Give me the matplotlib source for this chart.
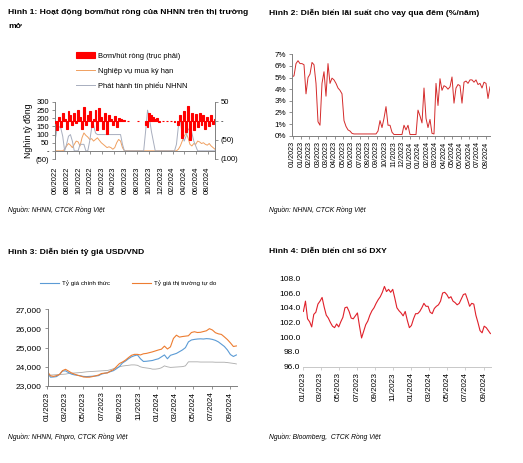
import numpy as np
import pandas as pd
import matplotlib
matplotlib.use("Agg")
import matplotlib.pyplot as plt
import matplotlib.dates as mdates
from matplotlib.ticker import FuncFormatter, FixedLocator

plt.rcParams['font.family'] = ['Liberation Sans', 'DejaVu Sans']

# ---------------- data ----------------
# Hinh 1: 10-day points from 01/06/2022
h1_start = "2022-06-01"
h1_red = [-5, -25, 10, -15, 20, 5, -20, 25, 15, -10, 20, -5, 30, 10, -20, 36, -10, 15, 25, -15,
          5, 30, -25, 35, 10, -20, 20, -35, 15, 5, -10, 12, -15, 8, 5, 3, 2, np.nan, 1, np.nan,
          np.nan, np.nan, np.nan, 1, np.nan, np.nan, np.nan, -10, -15, 20, 15, 10, 5, 8, -2, np.nan,
          1, np.nan, -1, np.nan, 1, np.nan, -2, np.nan, -10, 15, -44, 25, -30, 40, -49, 20, -25, 18,
          -15, 22, -10, 15, -20, 10, -12, 15, -8, 5]
h1_orange = [0, 0, 0, 0, 0, 10, 30, 45, 35, 20, 40, 60, 55, 30, 80, 110, 95, 85, 70, 75,
             60, 70, 80, 65, 50, 40, 30, 20, 25, 20, 10, 20, 50, 70, 60, 20, 0, 0, 0, 0,
             0, 0, 0, 0, 0, 0, 0, 0, 0, 0, 0, 0, 0, 0, 0, 0, 0, 0, 0, 0,
             0, 0, 0, 0, 10, 30, 60, 90, 110, 80, 40, 30, 45, 40, 60, 55, 45, 50, 40, 35,
             45, 30, 20, 10]
h1_grey = [60, 130, 150, 140, 90, 0, 40, 90, 100, 60, 0, 0, 0, 40, 40, 40, 0, 0, 60, 140,
           160, 110, 100, 100, 100, 100, 100, 100, 100, 100, 100, 100, 100, 100, 100, 40, 0, 0, 0, 0,
           0, 0, 0, 0, 0, 0, 0, 120, 250, 200, 120, 60, 0, 0, 0, 0, 0, 0, 0, 0,
           0, 0, 0, 40, 150, 190, 100, 60, 90, 130, 140, 110, 60, 30, 0, 0, 0, 0, 0, 0,
           0, 0, 0, 0]

# Hinh 2: overnight rate (%/nam)
h2_rate = [5.05, 5.15, 6.2, 6.45, 6.2, 6.2, 6.1, 3.6, 5.0, 5.3, 6.3, 6.1, 4.5, 1.2, 0.9, 4.5, 5.5, 3.4, 6.2, 4.5,
           4.95, 4.8, 4.5, 4.1, 3.9, 3.6, 1.3, 0.8, 0.5, 0.4, 0.2, 0.15, 0.15, 0.15, 0.15, 0.15, 0.15, 0.15, 0.15, 0.15,
           0.15, 0.15, 0.15, 0.4, 1.3, 0.7, 1.5, 2.5, 0.9, 0.9, 0.3, 0.1, 0.1, 0.1, 0.1, 0.1, 0.9, 0.5, 0.9, 0.1,
           0.1, 0.1, 0.1, 2.2, 1.7, 1.1, 4.1, 1.5, 0.7, 1.4, 0.2, 0.15, 4.5, 2.6, 4.9, 3.9, 4.3, 4.2, 4.0, 4.2,
           5.05, 2.8, 4.1, 4.4, 4.3, 2.8, 4.6, 4.7, 4.5, 4.8, 4.8, 4.6, 4.8, 4.4, 4.5, 4.1, 4.6, 4.5, 3.2, 4.2]
h2_labels = ["01/2023", "01/2023", "02/2023", "03/2023", "03/2023", "04/2023", "05/2023", "06/2023",
             "07/2023", "08/2023", "09/2023", "10/2023", "11/2023", "12/2023", "01/2024", "01/2024",
             "02/2024", "03/2024", "04/2024", "05/2024", "06/2024", "06/2024", "07/2024", "08/2024"]

# Hinh 3: USD/VND, 10-day points from 01/01/2023
h3_start = "2023-01-01"
h3_official = [23680, 23460, 23470, 23490, 23600, 23780, 23790, 23700, 23620, 23580, 23560, 23530, 23500, 23490, 23500, 23510,
               23520, 23540, 23620, 23660, 23700, 23750, 23800, 23900, 24020, 24200, 24300, 24420, 24520, 24580, 24620, 24420,
               24280, 24290, 24310, 24330, 24380, 24420, 24520, 24620, 24420, 24600, 24650, 24700, 24790, 24880, 25000, 25300,
               25400, 25430, 25450, 25460, 25450, 25470, 25460, 25430, 25380, 25300, 25180, 25060, 24880, 24640, 24540, 24620]
h3_free = [23750, 23530, 23500, 23540, 23600, 23800, 23870, 23780, 23680, 23620, 23560, 23520, 23470, 23460, 23460, 23490,
           23530, 23570, 23650, 23670, 23680, 23780, 23850, 24010, 24170, 24250, 24350, 24480, 24600, 24650, 24650, 24620,
           24680, 24700, 24740, 24780, 24830, 24880, 24920, 25080, 24930, 25040, 25480, 25650, 25550, 25580, 25600, 25620,
           25790, 25830, 25790, 25800, 25840, 25880, 25990, 25920, 25780, 25720, 25690, 25560, 25420, 25250, 25060, 25090]
h3_central = [23580, 23570, 23580, 23590, 23600, 23610, 23620, 23650, 23670, 23680, 23690, 23700, 23720, 23740, 23750, 23760,
              23770, 23780, 23790, 23800, 23810, 23850, 23900, 23950, 24000, 24040, 24060, 24080, 24100, 24100, 24080, 24000,
              23960, 23940, 23920, 23880, 23880, 23900, 23950, 24050, 24000, 23970, 23980, 23990, 24000, 24010, 24050, 24260,
              24260, 24260, 24260, 24250, 24250, 24250, 24250, 24250, 24240, 24240, 24240, 24240, 24220, 24200, 24180, 24150]

# Hinh 4: DXY weekly from 02/01/2023
h4_start = "2023-01-02"
h4_dxy = [103.5, 104.9, 102.5, 102.1, 101.4, 103.1, 103.4, 104.5, 104.9, 105.4, 104.1, 103.0, 102.6, 102.0, 101.5, 101.3,
          101.8, 101.4, 102.1, 102.7, 104.0, 104.1, 103.5, 102.6, 102.5, 102.9, 103.3, 101.5, 99.9, 100.8, 101.7, 102.2,
          103.0, 103.6, 104.0, 104.6, 105.1, 105.5, 106.1, 106.9, 106.2, 106.5, 106.1, 106.5, 105.3, 104.0, 103.6, 103.3,
          102.9, 103.5, 102.3, 101.3, 101.6, 102.5, 103.2, 103.2, 103.5, 104.0, 104.6, 104.2, 104.2, 103.4, 103.2, 103.9,
          104.2, 104.4, 104.9, 106.0, 106.1, 105.8, 105.3, 105.5, 104.9, 104.7, 104.4, 104.6, 105.2, 105.8, 105.9, 105.1,
          104.2, 104.6, 104.5, 103.0, 102.0, 100.9, 100.6, 101.5, 101.3, 100.9, 100.5]

W, H = 523, 463
fig = plt.figure(figsize=(W / 100, H / 100), dpi=100)


def box(x0, y0, x1, y1):
    return [x0 / W, 1 - y1 / H, (x1 - x0) / W, (y1 - y0) / H]


def style(ax, color="#808080"):
    for s in ["top", "right"]:
        ax.spines[s].set_visible(False)
    for s in ["left", "bottom"]:
        ax.spines[s].set_color(color)
        ax.spines[s].set_linewidth(0.7)
    ax.tick_params(length=2.5, width=0.6, color=color, labelsize=5.2, pad=1.5)


def acct(v, pos):
    if abs(v) < 1e-9:
        return "-"
    if v < 0:
        return f"({-v:,.0f})"
    return f"{v:,.0f}"


title_kw = dict(fontsize=6.1, fontweight="bold", va="center", ha="left")
src_kw = dict(fontsize=4.9, style="italic", va="center", ha="left")

# ---------- Hinh 1 ----------
fig.text(8 / W, 1 - 13 / H, "Hình 1: Hoạt động bơm/hút ròng của NHNN trên thị trường", **title_kw)
fig.text(8 / W, 1 - 27 / H, "mở", **title_kw)
d1 = pd.date_range(h1_start, periods=len(h1_red), freq="10D")
ax1 = fig.add_axes(box(55, 102, 215, 159))
ax1r = ax1.twinx()
l_or, = ax1.plot(d1, h1_orange, color="#F0A060", lw=0.7, label="Nghiệp vụ mua kỳ hạn")
l_gr, = ax1.plot(d1, h1_grey, color="#A8AEBE", lw=0.7, label="Phát hành tín phiếu NHNN")
b_red = ax1r.bar(d1, h1_red, width=10, color="#FF0000", edgecolor="#FF0000", lw=0.8,
                 label="Bơm/hút ròng (trục phải)")
ax1.set_ylim(-50, 300)
ax1r.set_ylim(-100, 50)
ax1.set_xlim(pd.Timestamp("2022-06-01"), pd.Timestamp("2024-09-08"))
ax1.set_yticks([-50, 0, 50, 100, 150, 200, 250, 300])
ax1r.set_yticks([-100, -50, 0, 50])
ax1.yaxis.set_major_formatter(FuncFormatter(acct))
ax1r.yaxis.set_major_formatter(FuncFormatter(acct))
ax1.xaxis.set_major_locator(mdates.MonthLocator(bymonth=[2, 4, 6, 8, 10, 12]))
ax1.xaxis.set_major_formatter(mdates.DateFormatter("%m/%Y"))
style(ax1)
ax1.spines["bottom"].set_position(("data", 0))
ax1.tick_params(axis="x", rotation=90, pad=9, labelsize=5.5)
ax1.tick_params(axis="y", labelsize=5.5)
for s in ["top", "left", "bottom"]:
    ax1r.spines[s].set_visible(False)
ax1r.spines["right"].set_color("#808080")
ax1r.spines["right"].set_linewidth(0.7)
ax1r.tick_params(length=2.5, width=0.6, color="#808080", labelsize=5.5, pad=1.5)
ax1.set_ylabel("Nghìn tỷ đồng", fontsize=6.3, labelpad=2)
fig.legend(handles=[b_red, l_or, l_gr], loc="upper left", bbox_to_anchor=(76 / W, 1 - 52 / H),
           frameon=False, fontsize=5.4, handlelength=2.5, handleheight=0.9, handletextpad=0.4,
           labelspacing=0.95, borderaxespad=0, borderpad=0)
fig.text(8 / W, 1 - 210 / H, "Nguồn: NHNN, CTCK Rồng Việt", **src_kw)

# ---------- Hinh 2 ----------
fig.text(269 / W, 1 - 13 / H, "Hình 2: Diễn biến lãi suất cho vay qua đêm (%/năm)", **title_kw)
ax2 = fig.add_axes(box(292, 54.3, 490, 135.7))
x2 = np.arange(len(h2_rate))
ax2.plot(x2, np.array(h2_rate) / 100, color="#D42A2A", lw=0.7)
ax2.set_ylim(0, 0.07)
ax2.set_xlim(0, len(h2_rate) - 1)
ax2.set_yticks(np.arange(0, 0.071, 0.01))
ax2.yaxis.set_major_formatter(FuncFormatter(lambda v, p: f"{v * 100:.0f}%"))
ax2.xaxis.set_major_locator(FixedLocator(np.linspace(0.3, 96.9, len(h2_labels))))
ax2.set_xticklabels(h2_labels)
style(ax2)
ax2.tick_params(axis="x", rotation=90, labelsize=5.2)
ax2.tick_params(axis="y", labelsize=5.8)
fig.text(269 / W, 1 - 210 / H, "Nguồn: NHNN, CTCK Rồng Việt", **src_kw)

# ---------- Hinh 3 ----------
fig.text(8 / W, 1 - 251.7 / H, "Hình 3: Diễn biến tỷ giá USD/VND", **title_kw)
d3 = pd.date_range(h3_start, periods=len(h3_free), freq="10D")
ax3 = fig.add_axes(box(47.5, 309.3, 237, 386))
ax3.plot(d3, h3_central, color="#AAAAAA", lw=0.6)
l_bl, = ax3.plot(d3, h3_official, color="#5B9BD5", lw=0.8, label="Tỷ giá chính thức")
l_og, = ax3.plot(d3, h3_free, color="#ED7D31", lw=0.8, label="Tỷ giá thị trường tự do")
ax3.set_ylim(23000, 27000)
ax3.set_yticks([23000, 24000, 25000, 26000, 27000])
ax3.yaxis.set_major_formatter(FuncFormatter(lambda v, p: f"{v:,.0f}"))
ax3.set_xlim(pd.Timestamp("2023-01-01"), pd.Timestamp("2024-09-24"))
ax3.xaxis.set_major_locator(mdates.MonthLocator(bymonth=[1, 3, 5, 7, 9, 11]))
ax3.xaxis.set_major_formatter(mdates.DateFormatter("%m/%Y"))
style(ax3)
ax3.tick_params(axis="x", rotation=90, labelsize=5.8)
ax3.tick_params(axis="y", labelsize=6)
fig.legend(handles=[l_bl, l_og], loc="center left", bbox_to_anchor=(40 / W, 1 - 283 / H), ncol=2,
           frameon=False, fontsize=4.5, handlelength=3.0, handletextpad=0.5, columnspacing=3.6,
           borderaxespad=0, borderpad=0)
fig.text(8 / W, 1 - 436.7 / H, "Nguồn: NHNN, Finpro, CTCK Rồng Việt", **src_kw)

# ---------- Hinh 4 ----------
fig.text(269 / W, 1 - 251.7 / H, "Hình 4: Diễn biến chỉ số DXY", **title_kw)
d4 = pd.date_range(h4_start, periods=len(h4_dxy), freq="7D")
ax4 = fig.add_axes(box(302.5, 278.3, 491, 366.7))
ax4.plot(d4, h4_dxy, color="#E0202A", lw=0.8)
ax4.set_ylim(96, 108)
ax4.set_yticks(np.arange(96, 108.1, 2))
ax4.yaxis.set_major_formatter(FuncFormatter(lambda v, p: f"{v:.1f}"))
ax4.set_xlim(pd.Timestamp("2022-12-30"), pd.Timestamp("2024-09-25"))
ax4.xaxis.set_major_locator(mdates.MonthLocator(bymonth=[1, 3, 5, 7, 9, 11]))
ax4.xaxis.set_major_formatter(mdates.DateFormatter("%m/%Y"))
style(ax4, color="#C8C8C8")
ax4.spines["left"].set_visible(False)
ax4.tick_params(axis="y", length=0)
ax4.tick_params(axis="x", rotation=90, labelsize=5.8)
ax4.tick_params(axis="y", labelsize=6)
fig.text(269 / W, 1 - 436.7 / H, "Nguồn: Bloomberg,  CTCK Rồng Việt", **src_kw)

fig.savefig("out.png", dpi=100)
